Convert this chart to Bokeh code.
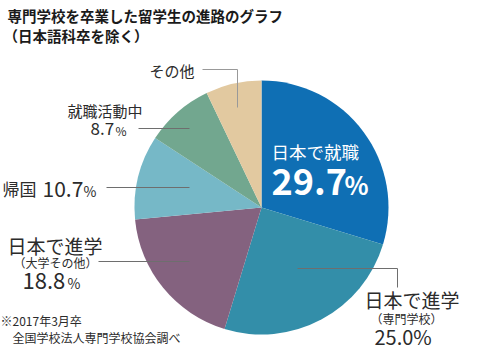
import numpy as np
from bokeh.plotting import figure
from bokeh.models import Range1d, ColumnDataSource
from bokeh.core.properties import value
from bokeh.embed import file_html
from bokeh.resources import INLINE

# ---- data ----
categories = ["日本で就職", "日本で進学（専門学校）", "日本で進学（大学その他）", "帰国", "就職活動中", "その他"]
values = [29.7, 25.0, 18.8, 10.7, 8.7, 7.1]
colors = ["#0f6fb4", "#338ea9", "#84627f", "#76b8c7", "#72a78f", "#e2c9a0"]

W, H = 493, 351
FONT = "Noto Sans CJK JP"
TXT = "#2b2b2b"

def Y(y):
    return H - y

p = figure(width=W, height=H, x_range=Range1d(0, W), y_range=Range1d(0, H),
           output_backend="svg", toolbar_location=None, min_border=0)
p.axis.visible = False
p.grid.visible = False
p.outline_line_color = None
p.background_fill_color = "white"

# pie
cx, cy, r = 261, Y(207), 127
fr = np.array(values) / sum(values)
cum = np.concatenate([[0], np.cumsum(fr)])
start = np.pi / 2 - cum[:-1] * 2 * np.pi
end = np.pi / 2 - cum[1:] * 2 * np.pi
src = ColumnDataSource(dict(start=start, end=end, color=colors, cat=categories, val=values))
p.wedge(x=cx, y=cy, radius=r, start_angle="start", end_angle="end", direction="clock",
        fill_color="color", line_color=None, source=src)

# leader lines
LC = "#6e6e6e"
p.line([202, 237, 237], [Y(69), Y(69), Y(107)], line_color="#999999", line_width=1)
p.line([138, 189], [Y(128), Y(128)], line_color=LC, line_width=1)
p.line([106, 189], [Y(187), Y(187)], line_color=LC, line_width=1)
p.line([98, 189], [Y(261), Y(261)], line_color=LC, line_width=1)
p.line([297, 397, 397], [Y(268), Y(268), Y(287)], line_color=LC, line_width=1)

def t(x, y, s, size, color=TXT, bold=False, align="left"):
    p.text(x=[x], y=[Y(y)], text=[s], text_font=value(FONT), text_font_size=f"{size}px",
           text_color=color, text_align=align, text_baseline="middle",
           text_font_style="bold" if bold else "normal")

# title
t(7, 15, "専門学校を卒業した留学生の進路のグラフ", 14.5, color="#1a1a1a", bold=True)
t(3, 35, "（日本語科卒を除く）", 14.5, color="#1a1a1a", bold=True)

# labels
t(149, 70, "その他", 15)
t(67, 110, "就職活動中", 15)
t(90, 128, "8.7", 17)
t(115, 129.5, "%", 12)
t(2, 188, "帰国", 17)
t(42, 188, "10.7", 21)
t(83, 190, "%", 14)
t(7, 245, "日本で進学", 19)
t(13, 262, "（大学その他）", 12)
t(22, 280, "18.8", 22)
t(67, 282, "%", 14)

# white inside label
t(271, 151, "日本で就職", 17.5, color="white")
t(271, 181, "29.7", 36, color="white", bold=True)
t(344, 183, "%", 25, color="white", bold=True)

# bottom right
t(364, 299, "日本で進学", 19)
t(370, 318, "（専門学校）", 12)
t(374, 336, "25.0%", 20)

# footnote
t(0, 320, "※2017年3月卒", 12)
t(12, 337, "全国学校法人専門学校協会調べ", 12)

open("out.html", "w").write(file_html(p, INLINE))
